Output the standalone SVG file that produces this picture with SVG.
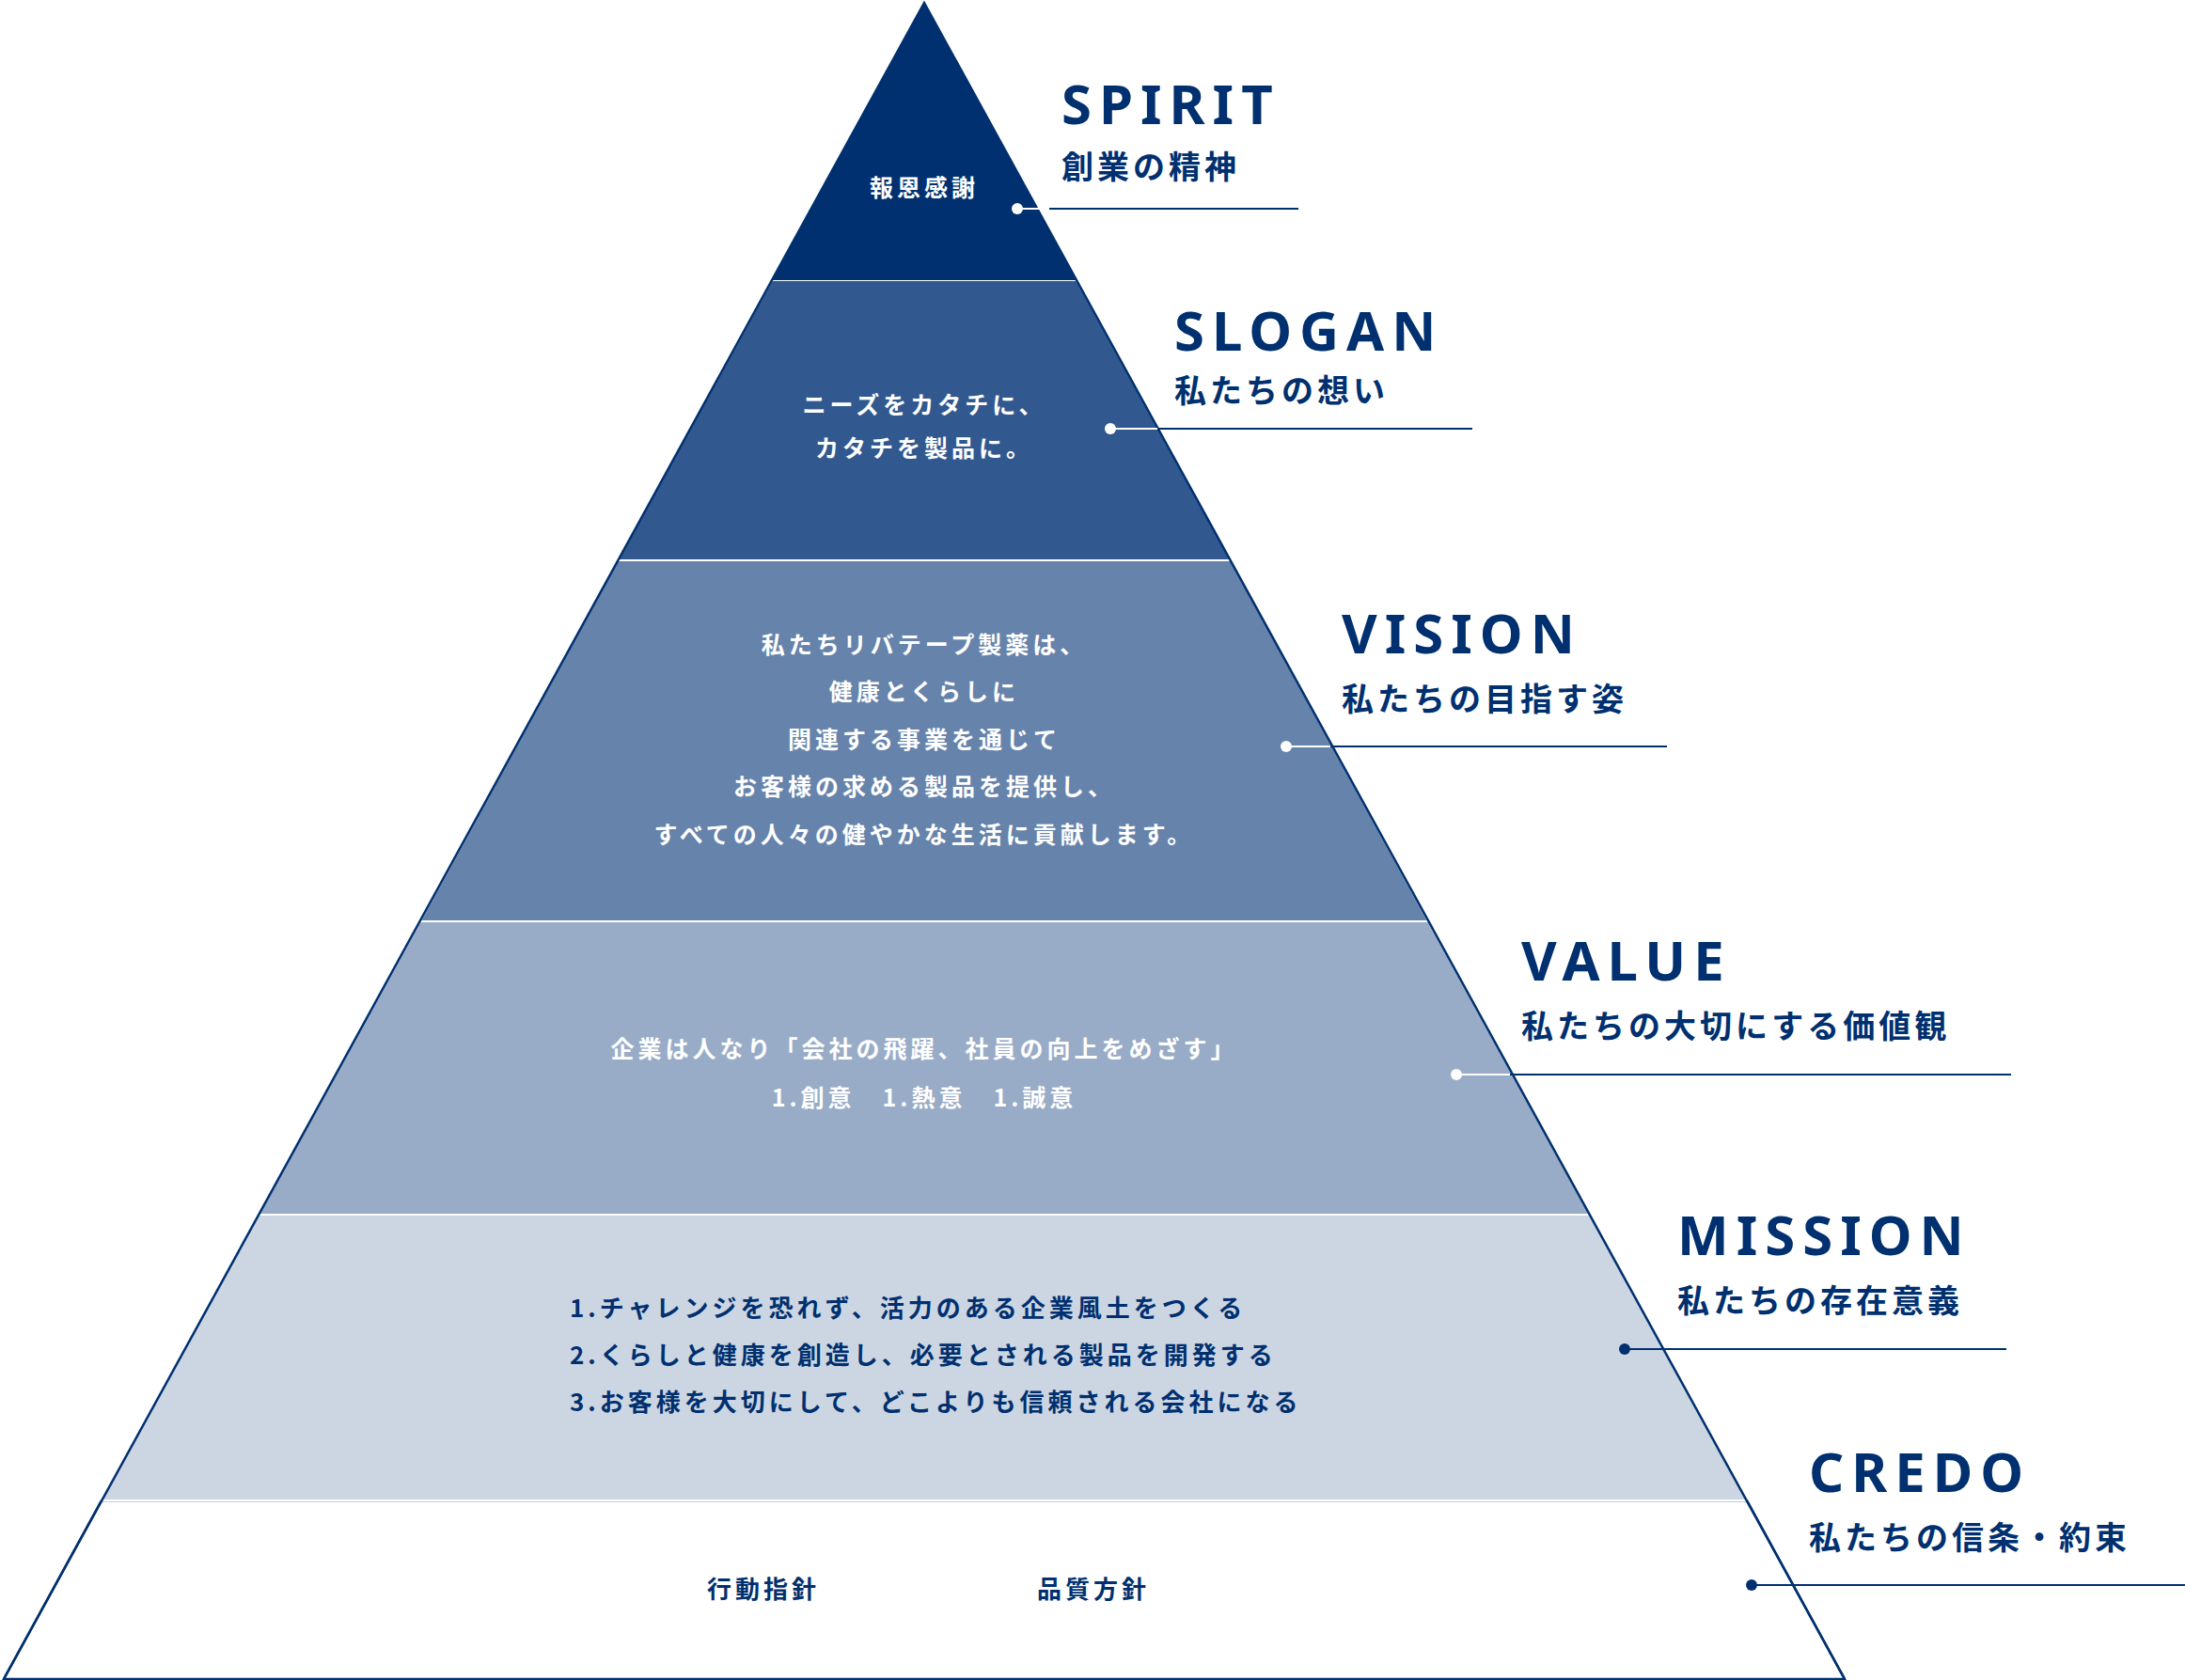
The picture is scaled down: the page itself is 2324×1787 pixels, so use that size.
<svg xmlns="http://www.w3.org/2000/svg" width="2324" height="1787" viewBox="0 0 2324 1787">
<style>
.t{font-family:"Noto Sans","Liberation Sans",sans-serif;font-weight:700;font-size:58px;fill:#00306f;letter-spacing:8px}
.s{font-family:"Noto Sans CJK JP",sans-serif;font-weight:700;font-size:34px;fill:#00306f;letter-spacing:4px}
.w{font-family:"Noto Sans CJK JP",sans-serif;font-weight:700;font-size:25px;fill:#fff;letter-spacing:4px;text-anchor:middle}
.n{font-family:"Noto Sans CJK JP",sans-serif;font-weight:700;font-size:26px;fill:#00306f;letter-spacing:4px}
.ln{stroke:#00306f;stroke-width:2}
.lw{stroke:#fff;stroke-width:2}
</style>
<g id="credo"><polygon points="108,1596 1858,1596 1962,1786 4,1786" fill="#fff" stroke="#00306f" stroke-width="2.5"/>
<text class="n" x="812" y="1700" text-anchor="middle" font-size="28">行動指針</text>
<text class="n" x="1163" y="1700" text-anchor="middle" font-size="28">品質方針</text></g>
<g id="mission"><polygon points="275,1292 1691,1292 1858,1596 108,1596" fill="#ccd6e3" stroke="#fff" stroke-width="2"/>
<text class="n" x="606" y="1401">1.チャレンジを恐れず、活力のある企業風土をつくる</text>
<text class="n" x="606" y="1451">2.くらしと健康を創造し、必要とされる製品を開発する</text>
<text class="n" x="606" y="1501">3.お客様を大切にして、どこよりも信頼される会社になる</text></g>
<g id="value"><polygon points="447,980 1519,980 1691,1292 275,1292" fill="#99acc7" stroke="#fff" stroke-width="2"/>
<text class="w" x="983" y="1125" font-size="29">企業は人なり「会社の飛躍、社員の向上をめざす」</text>
<text class="w" x="983" y="1177">1.創意　1.熱意　1.誠意</text></g>
<g id="vision"><polygon points="657,596 1309,596 1519,980 447,980" fill="#6683ab" stroke="#fff" stroke-width="2"/>
<text class="w" x="983" y="695">私たちリバテープ製薬は、</text>
<text class="w" x="983" y="745">健康とくらしに</text>
<text class="w" x="983" y="796">関連する事業を通じて</text>
<text class="w" x="983" y="846">お客様の求める製品を提供し、</text>
<text class="w" x="983" y="897">すべての人々の健やかな生活に貢献します。</text></g>
<g id="slogan"><polygon points="821,298 1145,298 1309,596 657,596" fill="#32598f" stroke="#fff" stroke-width="2"/>
<text class="w" x="983" y="440">ニーズをカタチに、</text>
<text class="w" x="983" y="486">カタチを製品に。</text></g>
<g id="spirit"><polygon points="983,3 1145,298 821,298" fill="#00306f"/>
<text class="w" x="983" y="209">報恩感謝</text></g>
<polyline points="4,1786 983,3 1962,1786" fill="none" stroke="#00306f" stroke-width="2.5"/>
<g id="connectors">
<line class="lw" x1="1082" y1="222" x2="1116" y2="222"/><line class="ln" x1="1116" y1="222" x2="1381" y2="222"/><circle cx="1082" cy="222" r="6" fill="#fff"/>
<line class="lw" x1="1181" y1="456" x2="1231" y2="456"/><line class="ln" x1="1231" y1="456" x2="1566" y2="456"/><circle cx="1181" cy="456" r="6" fill="#fff"/>
<line class="lw" x1="1368" y1="794" x2="1415" y2="794"/><line class="ln" x1="1415" y1="794" x2="1773" y2="794"/><circle cx="1368" cy="794" r="6" fill="#fff"/>
<line class="lw" x1="1549" y1="1143" x2="1606" y2="1143"/><line class="ln" x1="1606" y1="1143" x2="2139" y2="1143"/><circle cx="1549" cy="1143" r="6" fill="#fff"/>
<line class="ln" x1="1728" y1="1435" x2="2134" y2="1435"/><circle cx="1728" cy="1435" r="6" fill="#00306f"/>
<line class="ln" x1="1863" y1="1686" x2="2324" y2="1686"/><circle cx="1863" cy="1686" r="6" fill="#00306f"/>
</g>
<g id="labels">
<text class="t" x="1129" y="132">SPIRIT</text><text class="s" x="1129" y="190">創業の精神</text>
<text class="t" x="1249" y="373">SLOGAN</text><text class="s" x="1249" y="428">私たちの想い</text>
<text class="t" x="1427" y="695">VISION</text><text class="s" x="1427" y="756">私たちの目指す姿</text>
<text class="t" x="1618" y="1043">VALUE</text><text class="s" x="1618" y="1104">私たちの大切にする価値観</text>
<text class="t" x="1784" y="1335">MISSION</text><text class="s" x="1784" y="1396">私たちの存在意義</text>
<text class="t" x="1924" y="1587">CREDO</text><text class="s" x="1924" y="1648">私たちの信条・約束</text>
</g>
</svg>
